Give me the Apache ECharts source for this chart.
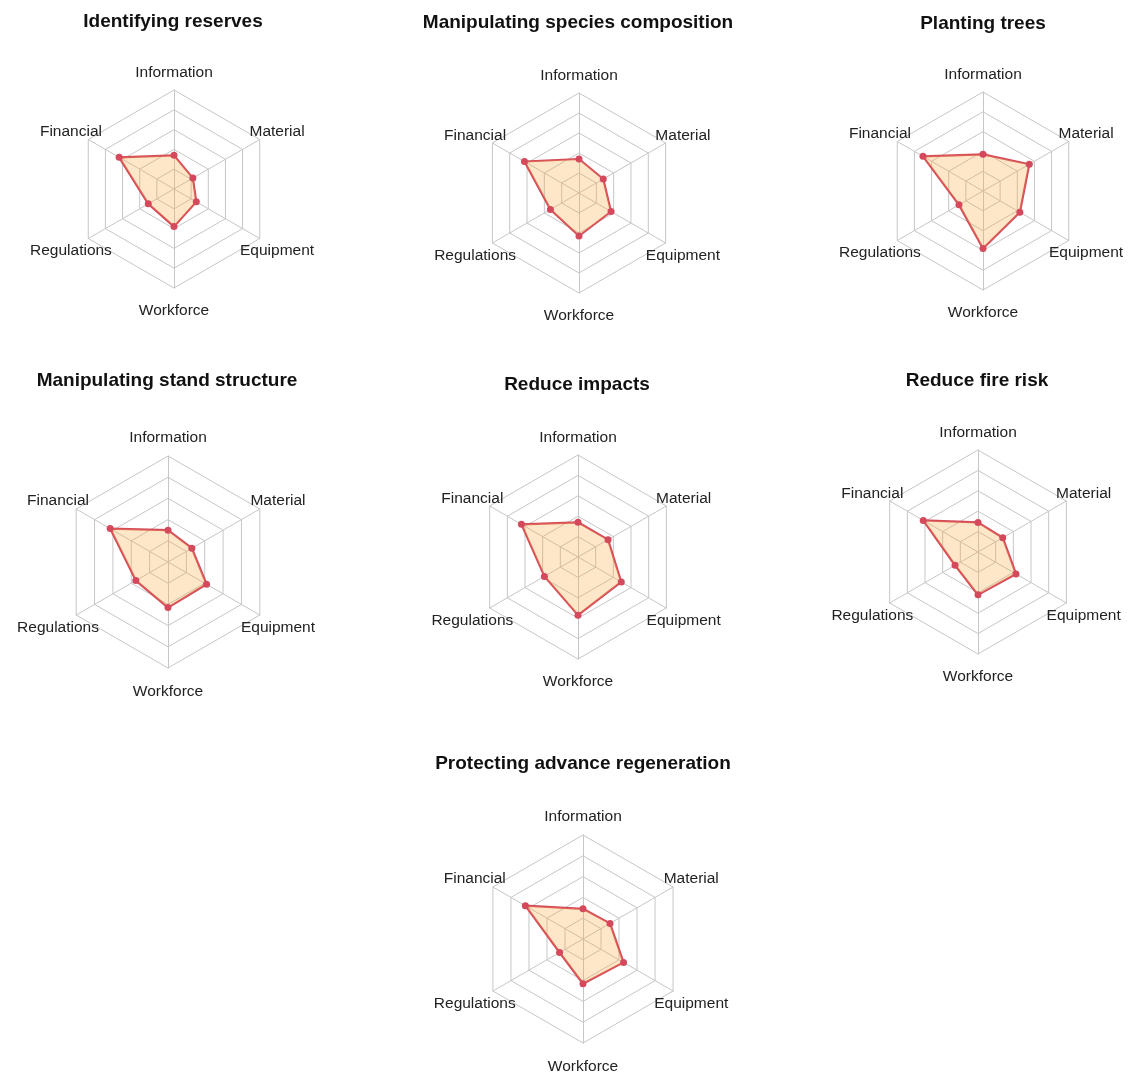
<!DOCTYPE html>
<html>
<head>
<meta charset="utf-8">
<title>Resource constraints by silvicultural practice</title>
<script src="https://cdn.jsdelivr.net/npm/echarts@6/dist/echarts.min.js"></script>
<style>
  html, body { margin: 0; padding: 0; background: #ffffff; }
  #chart { width: 1132px; height: 1073px; }
</style>
</head>
<body>
<div id="chart"></div>
<script>
// Axes, listed clockwise starting from the top
const axisNames = ['Information', 'Material', 'Equipment', 'Workforce', 'Regulations', 'Financial'];

// Panel titles
const practices = [
  'Identifying reserves',
  'Manipulating species composition',
  'Planting trees',
  'Manipulating stand structure',
  'Reduce impacts',
  'Reduce fire risk',
  'Protecting advance regeneration'
];

// Scores per axis (same order as axisNames)
const identifyingReserves          = [1.7, 1.1, 1.3, 1.9, 1.5, 3.2];
const manipulatingSpecies          = [1.7, 1.4, 1.85, 2.15, 1.65, 3.15];
const plantingTrees                = [1.85, 2.7, 2.15, 2.9, 1.4, 3.5];
const manipulatingStand            = [1.5, 1.3, 2.1, 2.15, 1.75, 3.15];
const reduceImpacts                = [1.7, 1.7, 2.45, 2.85, 1.9, 3.2];
const reduceFireRisk               = [1.45, 1.4, 2.15, 2.1, 1.3, 3.1];
const protectingAdvanceRegen       = [1.45, 1.5, 2.25, 2.15, 1.3, 3.2];

const seriesValues = [
  identifyingReserves, manipulatingSpecies, plantingTrees,
  manipulatingStand, reduceImpacts, reduceFireRisk, protectingAdvanceRegen
];

const scaleMax = 5;
const rings = 5;

// Panel placement: radar centre, radius and title centre line
const panels = [
  { cx: 174, cy: 189, r: 99,  tx: 173, ty: 22 },
  { cx: 579, cy: 193, r: 100, tx: 578, ty: 23 },
  { cx: 983, cy: 191, r: 99,  tx: 983, ty: 24 },
  { cx: 168, cy: 562, r: 106, tx: 167, ty: 381 },
  { cx: 578, cy: 557, r: 102, tx: 577, ty: 385 },
  { cx: 978, cy: 552, r: 102, tx: 977, ty: 381 },
  { cx: 583, cy: 939, r: 104, tx: 583, ty: 764 }
];

// ECharts lays radar indicators out counter-clockwise; walk the clockwise list backwards
const n = axisNames.length;
const ccwOrder = [];
for (let i = 0; i < n; i++) ccwOrder.push((n - i) % n);

const fontStack = "'Liberation Sans', Arial, Helvetica, sans-serif";
const gridColor = '#c6c6c6';
const lineColor = '#d44a5c';
const fillColor = 'rgba(250, 168, 58, 0.4)';

const titles = [];
const radars = [];
const series = [];

panels.forEach(function (p, k) {
  titles.push({
    text: practices[k],
    left: p.tx,
    top: p.ty - 11,
    textAlign: 'center',
    padding: 0,
    textStyle: {
      fontFamily: fontStack,
      fontSize: 19,
      fontWeight: 'bold',
      color: '#111111',
      lineHeight: 22
    }
  });

  radars.push({
    center: [p.cx, p.cy],
    radius: p.r,
    startAngle: 90,
    splitNumber: rings,
    shape: 'polygon',
    nameGap: Math.round(p.r * 0.2),
    indicator: ccwOrder.map(function (i) { return { name: axisNames[i], min: 0, max: scaleMax }; }),
    // names are centred a little below the point 1.2 radii out along each axis
    axisName: {
      color: '#222222',
      fontFamily: fontStack,
      fontSize: 15.5,
      align: 'center',
      verticalAlign: 'top',
      lineHeight: 5
    },
    axisLine: { lineStyle: { color: gridColor, width: 1 } },
    splitLine: { lineStyle: { color: gridColor, width: 1 } },
    splitArea: { show: false },
    axisTick: { show: false },
    axisLabel: { show: false }
  });

  series.push({
    type: 'radar',
    radarIndex: k,
    silent: true,
    symbol: 'circle',
    symbolSize: 7,
    itemStyle: { color: lineColor },
    lineStyle: { color: lineColor, width: 2.2 },
    areaStyle: { color: fillColor },
    data: [{ value: ccwOrder.map(function (i) { return seriesValues[k][i]; }), name: practices[k] }]
  });
});

const chart = echarts.init(document.getElementById('chart'), null, { renderer: 'canvas' });
chart.setOption({
  backgroundColor: '#ffffff',
  animation: false,
  title: titles,
  radar: radars,
  series: series
});
</script>
</body>
</html>
